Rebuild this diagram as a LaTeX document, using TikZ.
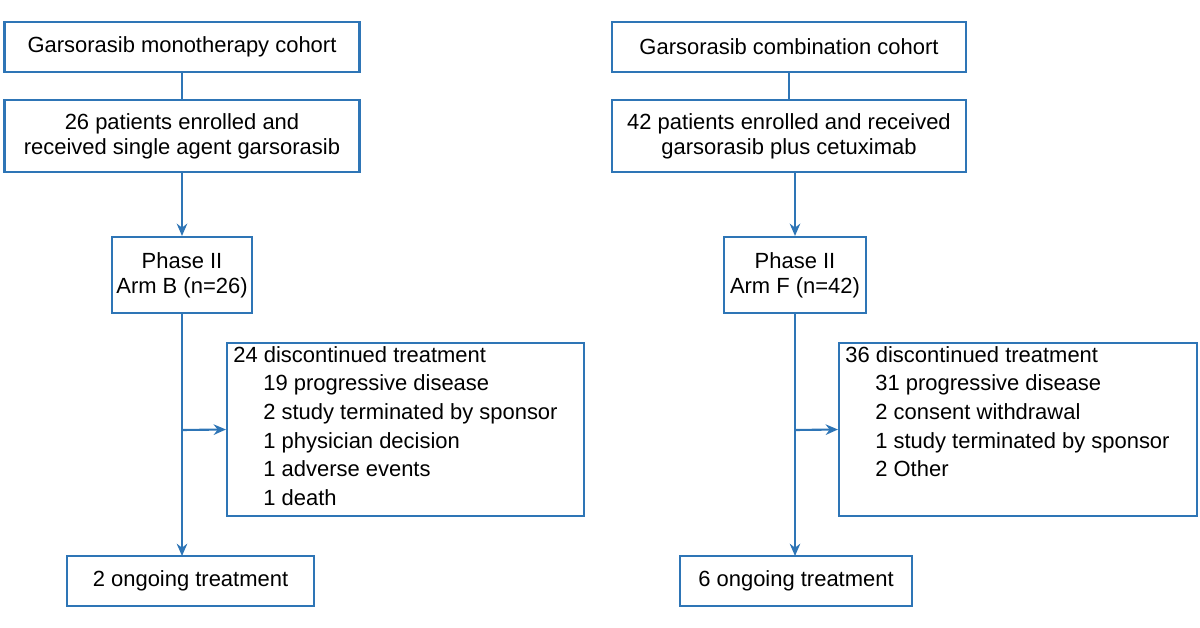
\documentclass[tikz,border=0pt]{standalone}
\usepackage{fontspec}
\setmainfont{Liberation Sans}
\usetikzlibrary{arrows.meta}
\definecolor{flowblue}{RGB}{46,117,182}
\tikzset{
  box/.style={draw=flowblue, line width=1.2pt, inner sep=0pt, font=\fontsize{12.5}{14.3}\selectfont},
  flow/.style={flowblue, line width=1.2pt},
  arr/.style={flow, -{Stealth[length=7pt,width=6pt]}},
  list/.style={inner sep=0pt, align=left, anchor=north west, font=\fontsize{12.5}{16.3}\selectfont},
}
\newcommand{\ind}{\hspace*{0.6cm}}
\begin{document}
\begin{tikzpicture}[x=0.02cm, y=-0.02cm]
\useasboundingbox (0,0) rectangle (1200,628);
% left cohort
\node[box, minimum width=355*0.02cm, minimum height=50*0.02cm] (monoTop) at (182,47) {Garsorasib monotherapy cohort};
\node[box, minimum width=355*0.02cm, minimum height=72*0.02cm, align=center] (monoEnr) at (182,136) {26 patients enrolled and\\received single agent garsorasib};
\node[box, minimum width=140*0.02cm, minimum height=76*0.02cm, align=center] (armB) at (182,275) {Phase II\\Arm B (n=26)};
\node[box, minimum width=357*0.02cm, minimum height=173*0.02cm] (discB) at (405.5,429.5) {};
\node[list] (discBtxt) at (233,346) {24 discontinued treatment\\
\ind 19 progressive disease\\ \ind 2 study terminated by sponsor\\ \ind 1 physician decision\\ \ind 1 adverse events\\ \ind 1 death};
\node[box, minimum width=247*0.02cm, minimum height=50*0.02cm] (ongoB) at (190.5,581) {2 ongoing treatment};
\draw[flow] (monoTop.south) -- (monoEnr.north);
\draw[arr] (monoEnr.south) -- (armB.north);
\draw[arr] (armB.south) -- (182,556);
\coordinate (brB) at (182,430);
\draw[arr] (brB) -- (discB.west);
% right cohort
\node[box, minimum width=354*0.02cm, minimum height=50*0.02cm] (combTop) at (789,47) {Garsorasib combination cohort};
\node[box, minimum width=354*0.02cm, minimum height=72*0.02cm, align=center] (combEnr) at (789,136) {42 patients enrolled and received\\garsorasib plus cetuximab};
\node[box, minimum width=142*0.02cm, minimum height=76*0.02cm, align=center] (armF) at (795,275) {Phase II\\Arm F (n=42)};
\node[box, minimum width=358*0.02cm, minimum height=173*0.02cm] (discF) at (1018,429.5) {};
\node[list] (discFtxt) at (845,346) {36 discontinued treatment\\
\ind 31 progressive disease\\ \ind 2 consent withdrawal\\ \ind 1 study terminated by sponsor\\ \ind 2 Other};
\node[box, minimum width=232*0.02cm, minimum height=50*0.02cm] (ongoF) at (796,581) {6 ongoing treatment};
\draw[flow] (combTop.south) -- (combEnr.north);
\draw[arr] (795,172) -- (armF.north);
\draw[arr] (armF.south) -- (795,556);
\coordinate (brF) at (795,430);
\draw[arr] (brF) -- (discF.west);
\end{tikzpicture}
\end{document}
